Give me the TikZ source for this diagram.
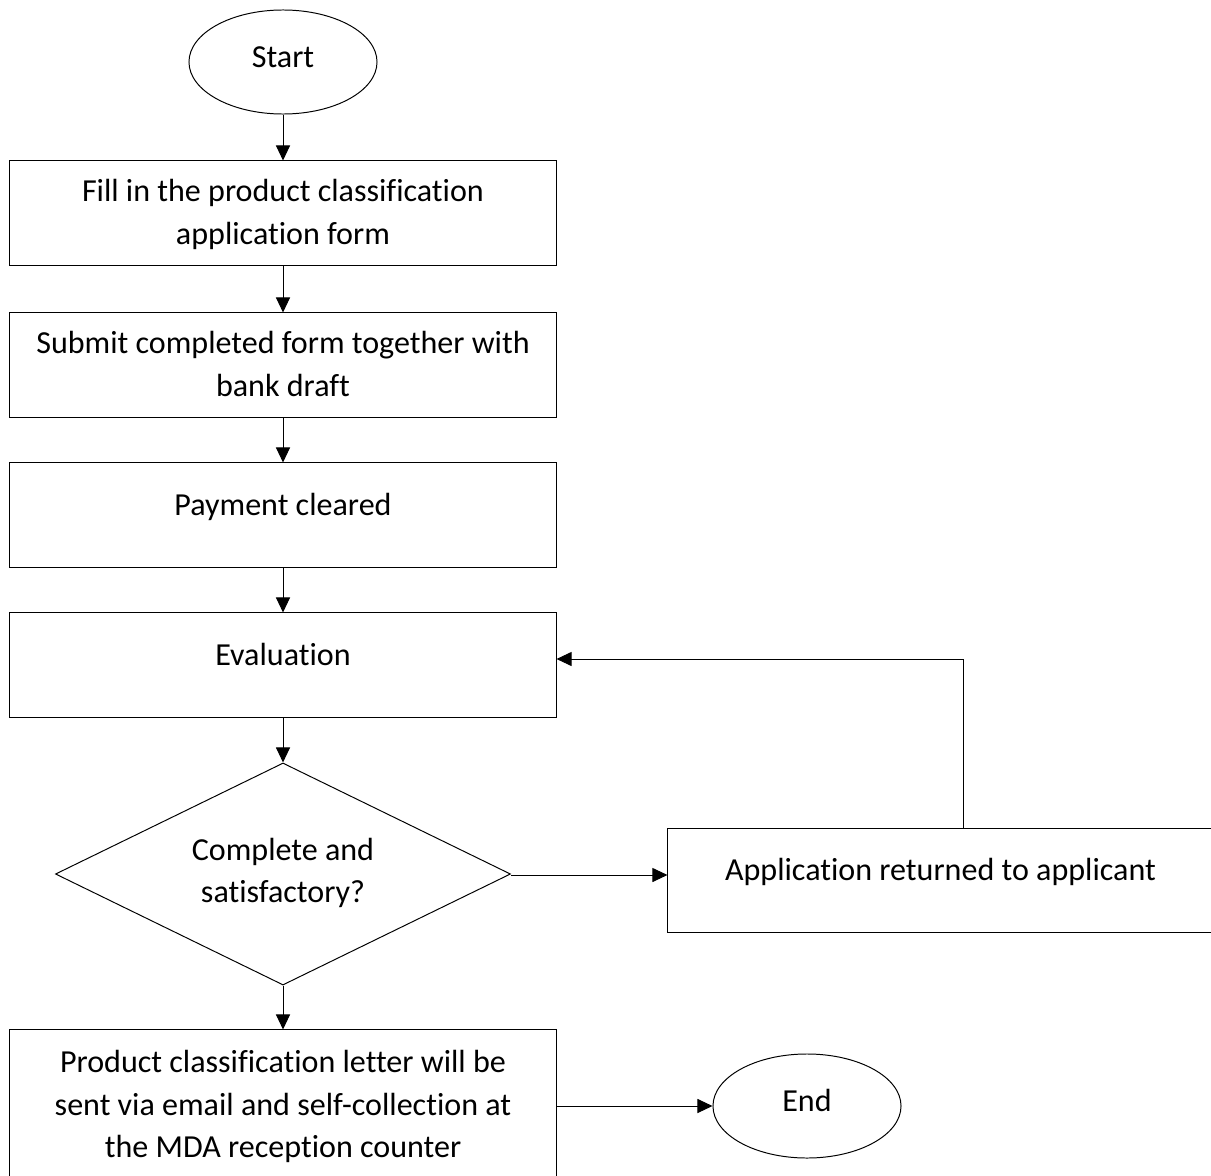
\documentclass[tikz,border=0pt]{standalone}
\usepackage{fontspec}
\setmainfont{Carlito}[Ligatures={NoCommon,NoContextual}]
\usetikzlibrary{shapes.geometric,arrows.meta}

\begin{document}
\begin{tikzpicture}[x=0.025cm, y=-0.025cm,
        flow/.style={line width=0.7pt, -{Triangle[length=0.375cm,width=0.35cm]}},
        procbox/.style={draw, line width=0.7pt, rectangle, inner sep=0pt, align=center,
            minimum width=13.65cm, minimum height=2.6cm},
        terminal/.style={draw, line width=0.7pt, ellipse, inner sep=0pt,
            minimum width=4.7cm, minimum height=2.6cm, text height=18pt, text depth=10.8pt},
        decision/.style={draw, line width=0.7pt, diamond, aspect=2.05, inner sep=0pt, align=center,
            minimum width=11.375cm, minimum height=5.55cm, text height=50pt, text depth=9pt},
        oneline/.style={text height=16pt, text depth=16pt},
        twolines/.style={text height=50pt, text depth=5.4pt},
        threelines/.style={text height=80pt, text depth=5.2pt}]
    \useasboundingbox (0,0) rectangle (1211,1176);
    {\fontsize{22.8}{30.2}\selectfont

    % Drawing terminal Start
    \node [terminal] (start) at (283,62) {Start};%

    % Drawing box fill
    \node [procbox, twolines] (fill) at (283,213) {Fill in the product classification\\application form};%

    % Drawing box submit
    \node [procbox, twolines] (submit) at (283,365) {Submit completed form together with\\bank draft};%

    % Drawing box payment
    \node [procbox, oneline] (payment) at (283,515) {Payment cleared};%

    % Drawing box evaluation
    \node [procbox, oneline] (evaluation) at (283,665) {Evaluation};%

    % Drawing decision check
    \node [decision] (check) at (283,874) {Complete and\\satisfactory?};%

    % Drawing box returned
    \node [procbox, oneline, minimum width=13.625cm] (returned) at (940.5,880) {Application returned to applicant};%

    % Drawing box letter
    \node [procbox, threelines, minimum height=3.75cm] (letter) at (283,1105) {Product classification letter will be\\sent via email and self-collection at\\the MDA reception counter};%

    % Drawing terminal End
    \node [terminal] (end) at (807,1106) {End};%
    }

    % Drawing arrows down the main line
    \draw [flow] (start) -- (fill);%
    \draw [flow] (fill) -- (submit);%
    \draw [flow] (submit) -- (payment);%
    \draw [flow] (payment) -- (evaluation);%
    \draw [flow] (evaluation) -- (check);%
    \draw [flow] (check) -- (letter);%

    % Drawing arrow to returned
    \draw [flow] ([yshift=-0.025cm]check.east) -- ([yshift=-0.025cm]check.east -| returned.west);%

    % Drawing loop back to evaluation
    \coordinate (back) at (963,659);%
    \draw [flow] (back |- returned.north) -- (back) -- (back -| evaluation.east);%

    % Drawing arrow to End
    \draw [flow] (letter.east |- end.west) -- (end.west);%
\end{tikzpicture}
\end{document}
